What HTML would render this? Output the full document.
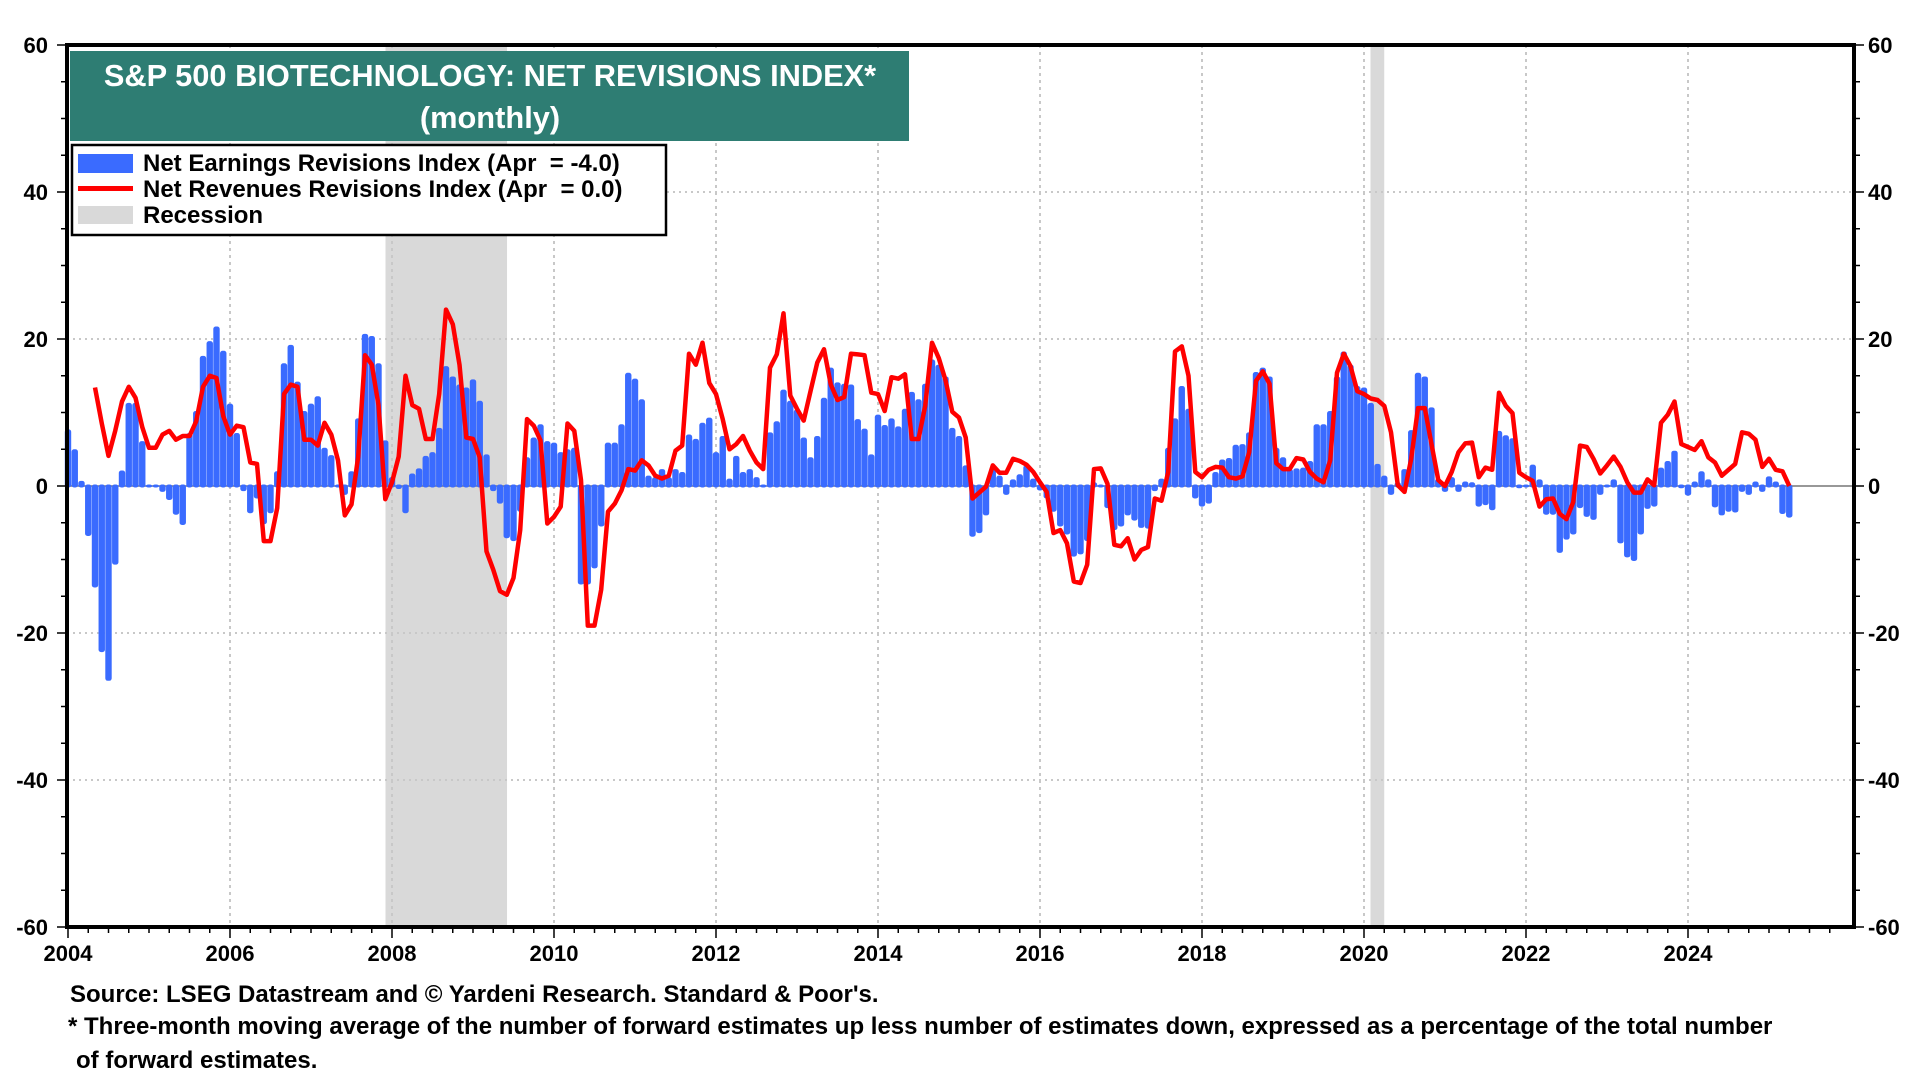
<!DOCTYPE html>
<html><head><meta charset="utf-8"><style>
html,body{margin:0;padding:0;background:#fff;}
svg{display:block;font-family:"Liberation Sans",Arial,sans-serif;font-weight:bold;}
</style></head><body>
<svg id="chart" width="1920" height="1080" viewBox="0 0 1920 1080" xmlns="http://www.w3.org/2000/svg">
<g id="bg"></g>
<g id="grid"></g>
<g id="bars"></g>
<g id="line"></g>
<g id="axes"></g>
<rect x="70" y="51" width="839" height="90" fill="#2e7d73"/>
<text x="490" y="86" fill="#fff" font-size="30.8" text-anchor="middle">S&amp;P 500 BIOTECHNOLOGY: NET REVISIONS INDEX*</text>
<text x="490" y="128" fill="#fff" font-size="30.8" text-anchor="middle">(monthly)</text>
<g>
<rect x="72" y="145" width="594" height="90" fill="#fff" stroke="#000" stroke-width="2.5"/>
<g>
<rect x="78" y="154" width="55" height="19" fill="#3a6bff"/>
<text x="143" y="171" font-size="24">Net Earnings Revisions Index (Apr&#160;&#160;= -4.0)</text></g>
<g>
<rect x="78" y="186" width="55" height="5" fill="#ff0000"/>
<text x="143" y="197" font-size="24">Net Revenues Revisions Index (Apr&#160;&#160;= 0.0)</text></g>
<g>
<rect x="78" y="206" width="55" height="18" fill="#d9d9d9"/>
<text x="143" y="223" font-size="24">Recession</text></g>
</g>
<text x="70" y="1002" font-size="24">Source: LSEG Datastream and © Yardeni Research. Standard &amp; Poor's.</text>
<text x="68" y="1034" font-size="24">* Three-month moving average of the number of forward estimates up less number of estimates down, expressed as a percentage of the total number</text>
<text x="76" y="1068" font-size="24">of forward estimates.</text>
</svg>
<script>
const startYear = 2004;
const earnings = [7.5,4.8,0.5,-6.6,-13.6,-22.4,-26.3,-10.5,1.9,11.1,11.1,5.9,0,
0,-0.6,-1.7,-3.7,-5.1,7,10,17.5,19.5,21.5,18.2,11,
7,-0.5,-3.5,-1.5,-5,-3.5,1.8,16.5,19,14,10,11,
12,5,4,0,-1,1.8,9,20.5,20.2,16.5,6,1,
-0.2,-3.5,1.5,2.2,
3.9,4.4,7.7,16.1,14.7,13.6,13.2,14.3,11.4,4.1,-0.5,
-2.2,-6.9,-7.3,-3.3,3.7,6.4,8.2,5.9,5.7,4.4,4.8,5,
-13.2,-13.2,-11,-5.3,5.7,5.7,8.2,15.2,14.4,11.6,1.2,1,
2.1,1,2.1,1.7,6.8,6.2,8.4,9.1,4.4,6.6,0.8,3.9,1.7,2.1,1,0,
7.1,8.6,12.9,11.4,10.2,6.4,3.7,6.6,11.8,15.9,13.9,13.7,
13.6,8.9,7.6,4.1,9.5,8.1,9,7.9,10.3,12.6,11.6,13.7,
17,16.3,14.7,7.7,6.6,2.6,-6.7,-6.2,-3.8,2.1,1.2,-1,
0.7,1.4,2.6,0.8,-0.4,-1.5,-3.3,-5.3,-6.4,-9.4,-9.1,-7.3,0.3,0,-2.8,-5.8,
-5.3,-3.8,-4.5,-5.5,-5.6,-0.5,0.8,5,9,13.4,10.3,
-1.5,-2.6,-2.2,1.7,3.4,3.6,5.4,5.5,7.1,15.3,15.9,14.7,
5,3.7,2.1,2.2,2.3,3.2,8.2,8.2,10,14.7,18.1,16.3,
13.4,13.2,11.1,2.8,1.2,-1,0.3,2.1,7.4,15.2,14.7,10.5,0.8,-0.6,1,-0.6,
0.4,0.3,-2.6,-2.4,-3.1,7.3,6.7,6.3,-0.1,0,2.7,0.7,
-3.7,-3.7,-8.9,-7.1,-6.4,-2.8,-4,-4.4,-1,0,0.7,-7.6,
-9.5,-10,-6.4,-2.9,-2.6,2.3,3.2,4.6,-0.1,-1.1,0.4,1.8,
0.7,-2.7,-3.8,-3.3,-3.4,-0.6,-1,0.4,-0.6,1.1,0.4,-3.6,-4.1];
const revenues = [null,null,null,null,
13.4,8.5,4.1,7.5,11.5,13.5,12,8,5.2,5.2,7,7.5,
6.3,6.8,6.8,8.8,13.5,15,14.7,9.5,7,8.2,8,3.2,
3,-7.5,-7.5,-3,12.5,13.8,13.5,6.3,6.3,5.5,8.6,7,
3.5,-4,-2.5,4,17.8,16.5,11,-1.8,0.5,4,15,11,10.5,
6.4,6.4,12.5,24,22,16.5,6.6,6.4,3.9,-8.9,-11.4,
-14.3,-14.8,-12.5,-6,9.1,8.2,6.2,-5.1,-4.2,-2.8,8.5,7.5,
0.8,-19,-19,-14.1,-3.5,-2.4,-0.6,2.3,2.1,3.5,2.8,1.4,
1,1.4,4.8,5.5,18,16.5,19.5,14,12.5,9.1,5,5.7,6.8,4.8,3.2,2.3,
16.1,17.9,23.5,12.3,10.5,8.9,12.9,16.8,18.6,13.8,11.7,12.1,
18,17.9,17.8,12.7,12.5,10.2,14.8,14.6,15.2,6.4,6.4,10.9,
19.5,17.4,14.4,10.1,9.3,6.6,-1.7,-0.9,-0.1,2.8,1.8,1.8,
3.7,3.4,2.9,1.9,0.5,-0.8,-6.4,-6,-7.8,-13,-13.2,-10.7,2.3,2.4,0.3,-8,
-8.2,-7.1,-10,-8.7,-8.3,-1.7,-2,1.9,18.3,19,15,
1.9,1.2,2.2,2.6,2.5,1.2,1,1.3,4.6,14.3,15.6,13.9,
3.1,2.3,2.3,3.8,3.6,1.9,1,0.5,3.5,15.4,18,16.3,
12.9,12.5,11.9,11.7,10.9,7.3,0.1,-0.8,3.7,10.6,10.6,5.7,0.8,0,1.9,4.6,
5.8,5.9,1.2,2.5,2.2,12.7,10.9,9.9,1.8,1.2,0.7,-2.8,
-1.8,-1.7,-3.8,-4.5,-2.2,5.5,5.3,3.7,1.7,2.8,4,2.6,
0.5,-0.9,-0.9,0.9,0.1,8.6,9.7,11.5,5.7,5.3,4.9,6.1,
3.9,3.2,1.4,2.2,3,7.3,7.1,6.3,2.6,3.7,2.2,2,0];
const recessionStarts = [2007.92, 2020.08];
const recessionEnds = [2009.42, 2020.25];
const yTicks = [-60,-40,-20,0,20,40,60];
const xTickYears = [2004,2006,2008,2010,2012,2014,2016,2018,2020,2022,2024];

const NS="http://www.w3.org/2000/svg";
const X0=67, X1=1854, YT=45, YB=927;
function xYear(y){return 68+81*(y-startYear);}
function xMonth(m){return xYear(startYear+m/12);}
function yVal(v){return (YT+YB)/2-v*(YB-YT)/120;}
function mk(parent,tag,attrs){const e=document.createElementNS(NS,tag);for(const k in attrs)e.setAttribute(k,attrs[k]);document.getElementById(parent).appendChild(e);return e;}

for(let i=0;i<recessionStarts.length;i++){
  const r=mk('bg','rect',{x:xYear(recessionStarts[i]),y:YT,width:xYear(recessionEnds[i])-xYear(recessionStarts[i]),height:YB-YT,fill:'#d9d9d9'});
  
  
}
yTicks.forEach(v=>{
  if(v!==0&&v!==60&&v!==-60){
    const g=mk('grid','line',{x1:X0,x2:X1,y1:yVal(v),y2:yVal(v),stroke:'#c8c8c8','stroke-width':2,'stroke-dasharray':'2,4'});
    
    
  }
});
xTickYears.forEach(yr=>{
  if(yr===startYear)return;
  const g=mk('grid','line',{x1:xYear(yr),x2:xYear(yr),y1:YT,y2:YB,stroke:'#c8c8c8','stroke-width':2,'stroke-dasharray':'3,4'});
  
  
});
const zl=mk('grid','line',{x1:X0,x2:X1,y1:yVal(0),y2:yVal(0),stroke:'#777','stroke-width':1.5});



earnings.forEach((v,m)=>{
  const x=xMonth(m), y0=yVal(0), y1=yVal(v);
  const top=Math.min(y0,y1)-1.5, h=Math.abs(y1-y0)+3;
  const b=mk('bars','rect',{x:x-3.2,y:top,width:6.4,height:h,rx:2.5,fill:'#3a6bff'});
  
  
});
let d='';
revenues.forEach((v,m)=>{
  if(v===null)return;
  d+=(d?'L':'M')+xMonth(m).toFixed(1)+','+yVal(v).toFixed(1);
});
const ln=mk('line','path',{d:d,fill:'none',stroke:'#ff0000','stroke-width':4.5,'stroke-linejoin':'round'});



const fr=mk('axes','rect',{x:X0,y:YT,width:X1-X0,height:YB-YT,fill:'none',stroke:'#000','stroke-width':4});


for(let v=-60;v<=60;v+=5){
  const big=v%20===0;
  mk('axes','line',{x1:X0-(big?10:6),x2:X0,y1:yVal(v),y2:yVal(v),stroke:'#000','stroke-width':1.5});
  mk('axes','line',{x1:X1,x2:X1+(big?10:6),y1:yVal(v),y2:yVal(v),stroke:'#000','stroke-width':1.5});
}
yTicks.forEach(v=>{
  const l=mk('axes','text',{x:48,y:yVal(v)+8,'font-size':22,'text-anchor':'end'});
  l.textContent=v;
  
  
  const r=mk('axes','text',{x:1868,y:yVal(v)+8,'font-size':22});
  r.textContent=v;
  
  
});
for(let q=0;q<=22*4-1;q++){
  const x=xYear(startYear+q/4);
  if(x>X1)break;
  const big=q%8===0;
  mk('axes','line',{x1:x,x2:x,y1:YB,y2:YB+(big?11:6),stroke:'#000','stroke-width':1.5});
}
xTickYears.forEach(yr=>{
  const t=mk('axes','text',{x:xYear(yr),y:961,'font-size':22,'text-anchor':'middle'});
  t.textContent=yr;
  
  
});
</script>
</body></html>
